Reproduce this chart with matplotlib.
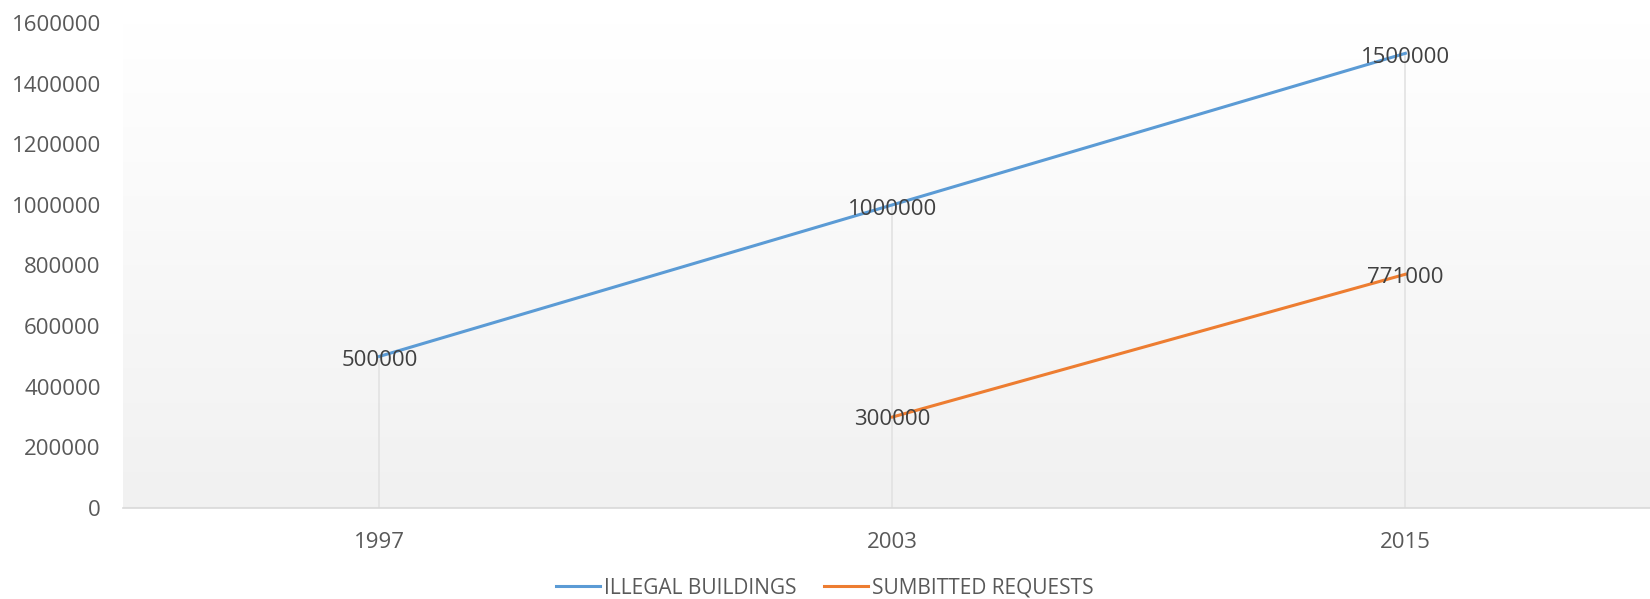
import numpy as np
import matplotlib.pyplot as plt

plt.rcParams['font.family'] = ['Open Sans', 'DejaVu Sans']

years = ['1997', '2003', '2015']
illegal_buildings = [500000, 1000000, 1500000]
submitted_requests = [np.nan, 300000, 771000]
y_ticks = [0, 200000, 400000, 600000, 800000, 1000000, 1200000, 1400000, 1600000]

blue = '#5b9bd5'
orange = '#ed7d31'
text_col = '#595959'
fs = 16

fig = plt.figure(figsize=(16.5, 5.99), dpi=100)
# Plot area runs past the right edge, as in the reference.
ax = fig.add_axes([0.0745, 0.152, 0.9327, 0.8096])
x = np.arange(len(years))
ax.set_xlim(-0.5, len(years) - 0.5)
ax.set_ylim(0, 1600000)

# Background gradient: white at top, light grey at bottom.
grad = np.linspace(1.0, 0.945, 256).reshape(-1, 1)
ax.imshow(np.dstack([grad, grad, grad]), extent=[-0.5, len(years) - 0.5, 0, 1600000],
          aspect='auto', zorder=0, origin='upper')

# Drop lines from the highest point down to the axis.
tops = np.nanmax(np.vstack([illegal_buildings, submitted_requests]), axis=0)
ax.vlines(x, 0, tops, color='#e2e2e2', lw=1.2, zorder=1)

ax.plot(x, illegal_buildings, color=blue, lw=2.2, label='ILLEGAL BUILDINGS', zorder=3)
ax.plot(x, submitted_requests, color=orange, lw=2.2, label='SUMBITTED REQUESTS', zorder=3)

# Data labels centred on the points.
for xi, v in zip(x, illegal_buildings):
    ax.annotate(f'{v:.0f}', (xi, v), xytext=(0, -3), textcoords='offset points',
                ha='center', va='center', fontsize=fs, color='#404040', zorder=4)
for xi, v in zip(x, submitted_requests):
    if not np.isnan(v):
        ax.annotate(f'{v:.0f}', (xi, v), xytext=(0, -2), textcoords='offset points',
                    ha='center', va='center', fontsize=fs, color='#404040', zorder=4)

ax.set_xticks(x)
ax.set_xticklabels(years)
ax.set_yticks(y_ticks)
ax.set_yticklabels([str(t) for t in y_ticks])
ax.tick_params(axis='both', length=0, labelsize=fs, labelcolor=text_col)
ax.tick_params(axis='x', pad=17)
ax.tick_params(axis='y', pad=16)
for side in ['top', 'right', 'left']:
    ax.spines[side].set_visible(False)
ax.spines['bottom'].set_color('#d9d9d9')
ax.spines['bottom'].set_linewidth(1.2)

fig.legend(loc='center', bbox_to_anchor=(0.5, 0.018), ncol=2, frameon=False,
           fontsize=15, labelcolor=text_col, handlelength=2.1, handletextpad=0.2,
           columnspacing=1.3)

fig.savefig('out.png', dpi=100)
